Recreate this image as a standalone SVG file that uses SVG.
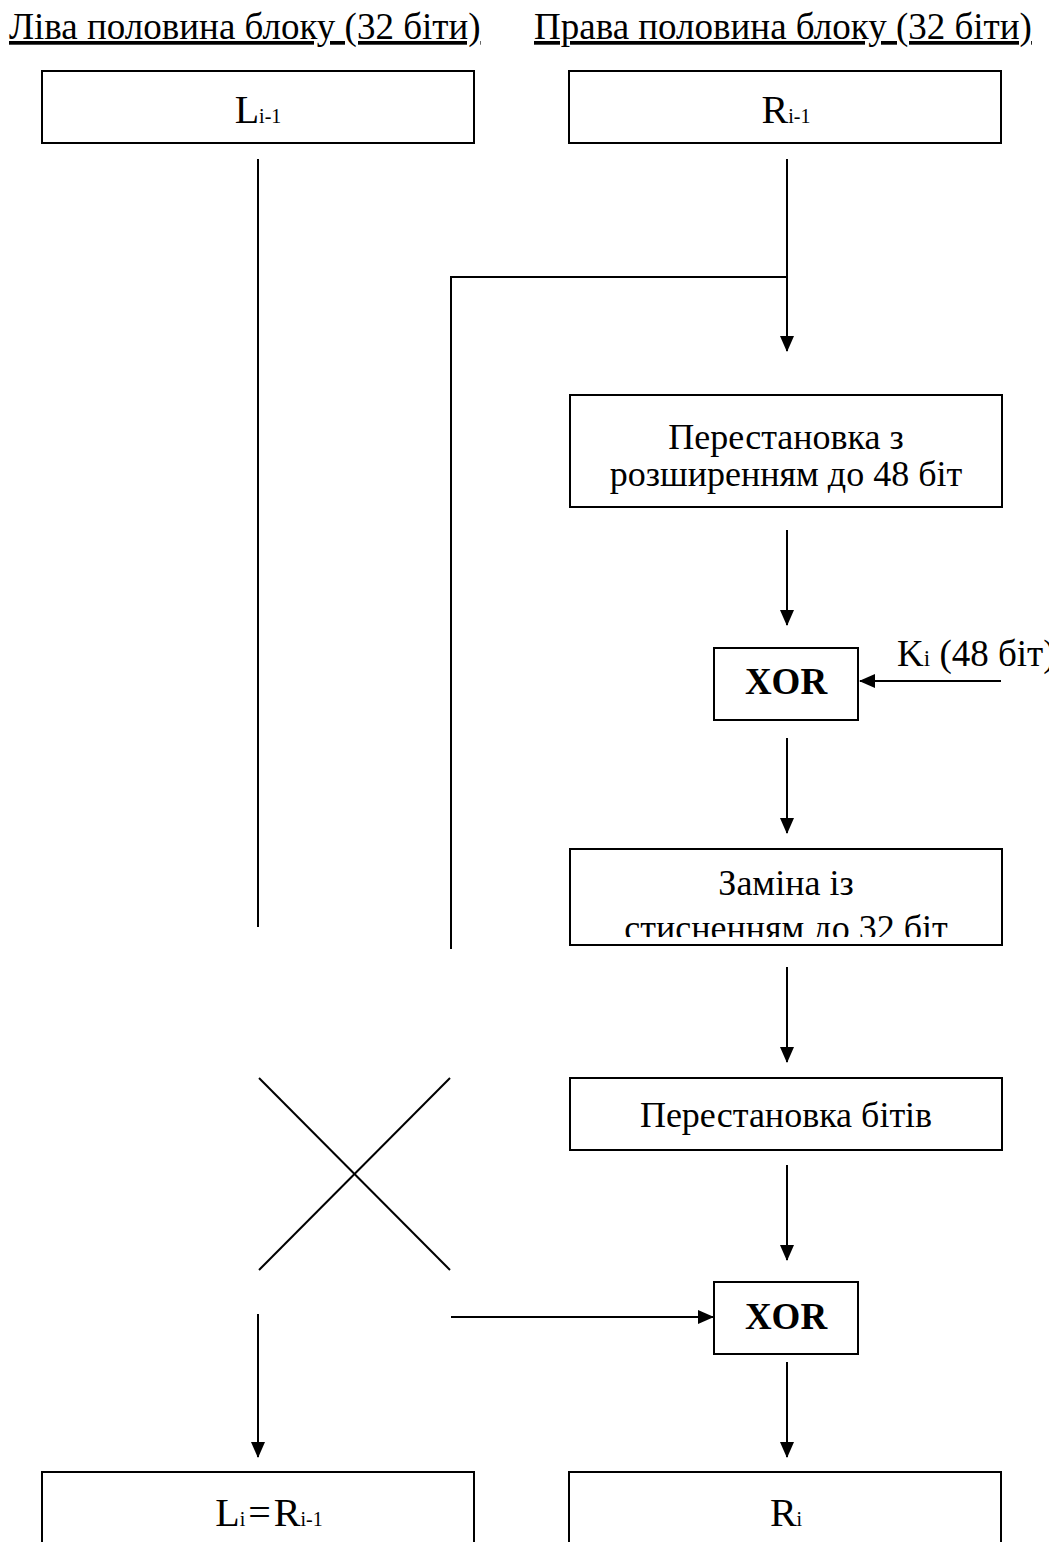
<svg xmlns="http://www.w3.org/2000/svg" width="1049" height="1542" viewBox="0 0 1049 1542">
<style>
  text { font-family: "Liberation Serif", "Times New Roman", serif; fill: #000; }
  .hdr { font-size: 37px; text-decoration: underline; }
  .lbl { font-size: 36px; text-anchor: middle; }
  .big { font-size: 40px; text-anchor: middle; }
  .sub { font-size: 20px; }
  .xor { font-size: 37px; font-weight: bold; text-anchor: middle; }
  .box { fill: #fff; stroke: #000; stroke-width: 2; }
  .ln { fill: none; stroke: #000; stroke-width: 2; }
</style>
<defs>
  <marker id="ah" markerWidth="16" markerHeight="16" viewBox="0 0 16 16" refX="15" refY="8" orient="auto" markerUnits="userSpaceOnUse">
    <path d="M0,1 L16,8 L0,15 Z" fill="#000"/>
  </marker>
  <clipPath id="clipZ"><rect x="571" y="850" width="430" height="87"/></clipPath>
</defs>
<rect width="1049" height="1542" fill="#fff"/>

<text class="hdr" x="9" y="39">Ліва половина блоку (32 біти)</text>
<text class="hdr" x="534" y="39">Права половина блоку (32 біти)</text>

<g id="connectors">
  <line class="ln" x1="258" y1="159" x2="258" y2="927"/>
  <line class="ln" x1="787" y1="159" x2="787" y2="351" marker-end="url(#ah)"/>
  <polyline class="ln" points="787,277 451,277 451,949"/>
  <line class="ln" x1="787" y1="530" x2="787" y2="625" marker-end="url(#ah)"/>
  <line class="ln" x1="1001" y1="681" x2="860" y2="681" marker-end="url(#ah)"/>
  <line class="ln" x1="787" y1="738" x2="787" y2="833" marker-end="url(#ah)"/>
  <line class="ln" x1="787" y1="967" x2="787" y2="1062" marker-end="url(#ah)"/>
  <line class="ln" x1="787" y1="1165" x2="787" y2="1260" marker-end="url(#ah)"/>
  <line class="ln" x1="259" y1="1078" x2="450" y2="1270"/>
  <line class="ln" x1="450" y1="1078" x2="259" y2="1270"/>
  <line class="ln" x1="451" y1="1317" x2="713" y2="1317" marker-end="url(#ah)"/>
  <line class="ln" x1="258" y1="1314" x2="258" y2="1457" marker-end="url(#ah)"/>
  <line class="ln" x1="787" y1="1362" x2="787" y2="1457" marker-end="url(#ah)"/>
</g>

<g id="L_prev">
  <rect class="box" x="42" y="71" width="432" height="72"/>
  <text class="big" x="258" y="123">L<tspan class="sub">i-1</tspan></text>
</g>
<g id="R_prev">
  <rect class="box" x="569" y="71" width="432" height="72"/>
  <text class="big" x="786" y="123">R<tspan class="sub">i-1</tspan></text>
</g>
<g id="expand">
  <rect class="box" x="570" y="395" width="432" height="112"/>
  <text class="lbl" x="786" y="449">Перестановка з</text>
  <text class="lbl" x="786" y="486">розширенням до 48 біт</text>
</g>
<g id="xor1">
  <rect class="box" x="714" y="648" width="144" height="72"/>
  <text class="xor" x="786" y="694">XOR</text>
</g>
<g id="key">
  <text x="897" y="666" style="font-size:37px">K<tspan style="font-size:23px">i</tspan> (48 біт)</text>
</g>
<g id="sbox">
  <rect class="box" x="570" y="849" width="432" height="96"/>
  <text class="lbl" x="786" y="895">Заміна із</text>
  <text class="lbl" x="786" y="940" clip-path="url(#clipZ)">стисненням до 32 біт</text>
</g>
<g id="perm">
  <rect class="box" x="570" y="1078" width="432" height="72"/>
  <text class="lbl" x="786" y="1127">Перестановка бітів</text>
</g>
<g id="xor2">
  <rect class="box" x="714" y="1282" width="144" height="72"/>
  <text class="xor" x="786" y="1329">XOR</text>
</g>
<g id="L_new">
  <rect class="box" x="42" y="1472" width="432" height="80"/>
  <text class="big" x="269" y="1526" style="word-spacing:-7px">L<tspan class="sub">i</tspan> = R<tspan class="sub">i-1</tspan></text>
</g>
<g id="R_new">
  <rect class="box" x="569" y="1472" width="432" height="80"/>
  <text class="big" x="786" y="1526">R<tspan class="sub">i</tspan></text>
</g>
</svg>
